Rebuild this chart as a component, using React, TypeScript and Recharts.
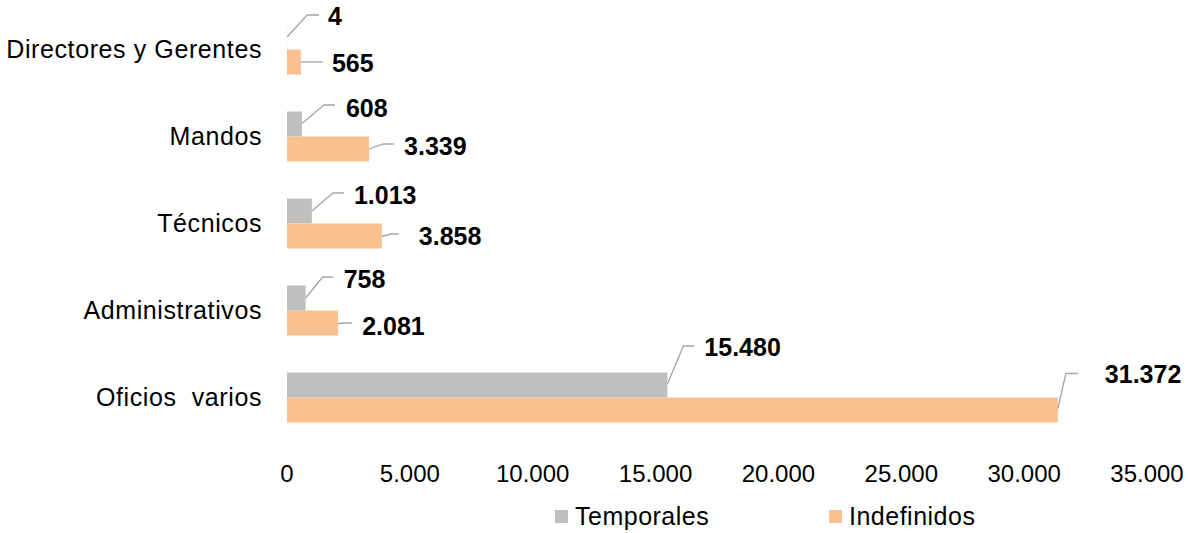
import { Bar, BarChart, LabelList, Legend, XAxis, YAxis } from "recharts";

const CATEGORIES = [
  "Directores y Gerentes",
  "Mandos",
  "Técnicos",
  "Administrativos",
  "Oficios\u00a0 varios",
];
const TEMPORALES = [4, 608, 1013, 758, 15480];
const INDEFINIDOS = [565, 3339, 3858, 2081, 31372];
const X_TICKS = [0, 5000, 10000, 15000, 20000, 25000, 30000, 35000];

const GRAY = "#BFBFBF";
const ORANGE = "#FAC08F";
const FONT = "'Liberation Sans', Arial, sans-serif";

// leader line offsets (px) relative to bar end / bar centre
type Leader = { sy: number; knee: number; rise: number; flat: number; tx: number; ty: number };
const GRAY_LEADERS: Leader[] = [
  { sy: 0, knee: 20, rise: 22, flat: 32, tx: 41, ty: -21 },
  { sy: -0.5, knee: 22, rise: 19, flat: 33, tx: 44, ty: -16 },
  { sy: 0, knee: 21, rise: 18, flat: 32, tx: 42, ty: -16 },
  { sy: 0, knee: 17, rise: 21, flat: 28, tx: 38, ty: -19 },
  { sy: -1, knee: 16, rise: 39, flat: 27, tx: 37, ty: -38 },
];
const ORANGE_LEADERS: Leader[] = [
  { sy: 0, knee: 11, rise: 0, flat: 22, tx: 31, ty: 0.5 },
  { sy: 0, knee: 14, rise: 5, flat: 25, tx: 35, ty: -3.5 },
  { sy: 0.5, knee: 9, rise: 2, flat: 17, tx: 37, ty: -0.5 },
  { sy: 0.5, knee: 7, rise: 0, flat: 14, tx: 24, ty: 2.5 },
  { sy: -1.5, knee: 8, rise: 36.5, flat: 20, tx: 47, ty: -36.5 },
];

const data = CATEGORIES.map((categoria, i) => ({
  categoria,
  Temporales: TEMPORALES[i],
  Indefinidos: INDEFINIDOS[i],
}));

const fmt = (v: number) =>
  String(Math.round(v)).replace(/\B(?=(\d{3})+(?!\d))/g, ".");

function leaderLabel(leaders: Leader[]) {
  return (props: any) => {
    const vb = props.viewBox ?? props;
    const x = Number(vb.x ?? props.x);
    const y = Number(vb.y ?? props.y);
    const w = Number(vb.width ?? props.width);
    const h = Number(vb.height ?? props.height);
    const l = leaders[props.index ?? 0] ?? leaders[0];
    const end = x + w;
    const cy = y + h / 2;
    const pts = [
      [end, cy + l.sy],
      [end + l.knee, cy - l.rise],
      [end + l.flat, cy - l.rise],
    ]
      .map((p) => p.join(","))
      .join(" ");
    return (
      <g>
        <polyline points={pts} fill="none" stroke="#A6A6A6" strokeWidth={1.3} />
        <text
          x={end + l.tx}
          y={cy + l.ty}
          dominantBaseline="central"
          fontFamily={FONT}
          fontSize={25}
          fontWeight="bold"
          fill="#000"
        >
          {fmt(Number(props.value))}
        </text>
      </g>
    );
  };
}

function LegendBox() {
  const item = (color: string, label: string, width?: number) => (
    <div style={{ display: "flex", alignItems: "center", width }}>
      <span style={{ width: 13, height: 13, background: color, marginRight: 7 }} />
      <span>{label}</span>
    </div>
  );
  return (
    <div
      style={{
        height: 40,
        boxSizing: "border-box",
        paddingTop: 17,
        paddingLeft: 555,
        display: "flex",
        alignItems: "center",
        fontFamily: FONT,
        fontSize: 25,
        letterSpacing: 0.5,
        color: "#000",
        lineHeight: "23px",
      }}
    >
      {item(GRAY, "Temporales", 274)}
      {item(ORANGE, "Indefinidos")}
    </div>
  );
}

export default function App() {
  return (
    <div style={{ position: "absolute", left: 0, top: 0, background: "#fff" }}>
      <BarChart
        width={1188}
        height={533}
        data={data}
        layout="vertical"
        margin={{ top: 5.5, right: 41, left: 0, bottom: 5.5 }}
        barGap={0}
        barSize={25}
      >
        <XAxis
          type="number"
          domain={[0, 35000]}
          ticks={X_TICKS}
          tickFormatter={fmt}
          axisLine={false}
          tickLine={false}
          tickMargin={18}
          height={47}
          interval={0}
          tick={{ fontSize: 24, fill: "#000", fontFamily: FONT }}
        />
        <YAxis
          type="category"
          dataKey="categoria"
          width={287}
          axisLine={false}
          tickLine={false}
          tickMargin={19}
          interval={0}
          tick={{ fontSize: 25, fill: "#000", fontFamily: FONT, letterSpacing: 0.6 }}
        />
        <Legend
          verticalAlign="bottom"
          wrapperStyle={{ left: 0, width: 1188 }}
          content={() => <LegendBox />}
        />
        <Bar dataKey="Temporales" fill={GRAY} isAnimationActive={false}>
          <LabelList dataKey="Temporales" content={leaderLabel(GRAY_LEADERS)} />
        </Bar>
        <Bar dataKey="Indefinidos" fill={ORANGE} isAnimationActive={false}>
          <LabelList dataKey="Indefinidos" content={leaderLabel(ORANGE_LEADERS)} />
        </Bar>
      </BarChart>
    </div>
  );
}
